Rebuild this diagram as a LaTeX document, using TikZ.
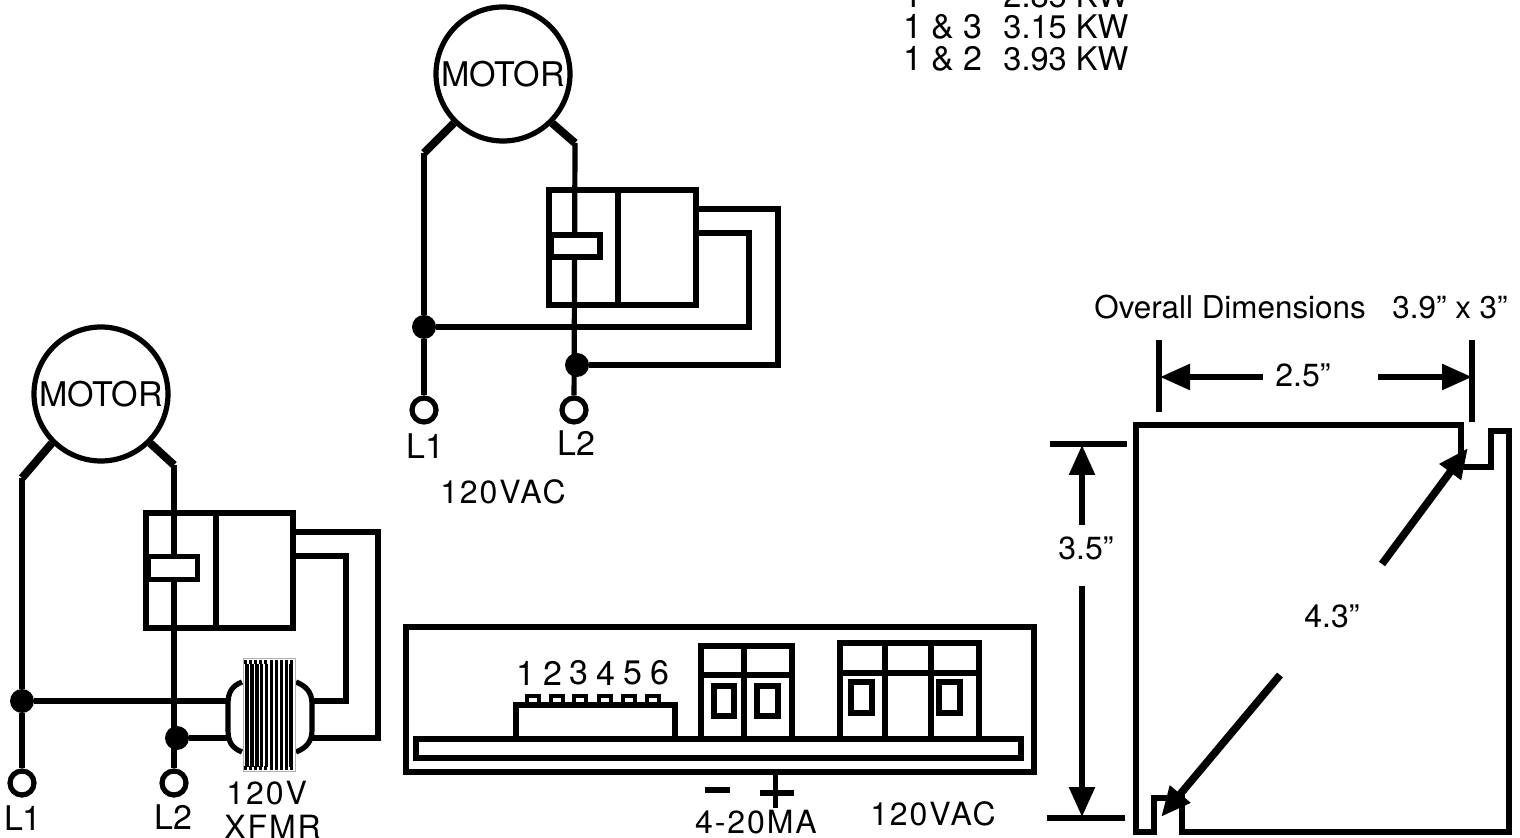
\documentclass[tikz,border=0pt]{standalone}
\usepackage{fontspec}
\setmainfont{TeX Gyre Heros}
\newfontfamily\widefont[LetterSpace=6]{TeX Gyre Heros}
\usetikzlibrary{arrows.meta}

\tikzset{
  wire/.style={line width=2.6pt, line join=miter},
  lead/.style={line width=4pt},
  motor/.style={circle, draw, line width=2.6pt, minimum size=67pt, inner sep=0pt, font=\fontsize{17}{18}\selectfont},
  term/.style={circle, draw, line width=2.6pt, minimum size=12pt, inner sep=0pt},
  dot/.style={circle, fill, minimum size=12pt, inner sep=0pt},
  part/.style={rectangle, draw, line width=2.6pt, inner sep=0pt},
  lbl/.style={font=\fontsize{16}{18}\selectfont, inner sep=0pt},
  blbl/.style={font=\fontsize{17}{18}\selectfont, inner sep=0pt},
  wlbl/.style={font=\widefont\fontsize{16}{18}\selectfont, inner sep=0pt},
  dim/.style={line width=2.8pt, -{Triangle[length=15pt, width=12.5pt]}},
  diag/.style={line width=3.8pt, -{Triangle[length=15pt, width=12.5pt]}},
  tick/.style={line width=2.6pt}
}

\begin{document}
\begin{tikzpicture}[x=0.5pt, y=-0.5pt]
    \useasboundingbox (0,0) rectangle (1520,838);

    % left circuit
    \node[motor] (a) at (101,394) {MOTOR};
    \node[term] (b) at (22,783) {};
    \node[term] (c) at (174,783) {};
    \node[dot] (d) at (22,701) {};
    \node[dot] (e) at (177,738) {};
    \coordinate (f) at (22,478);
    \coordinate (g) at (174,465);
    \coordinate (i) at (293,532);
    \coordinate (j) at (378,532);
    \coordinate (k) at (378,738);
    \coordinate (l) at (311,738);
    \coordinate (m) at (293,556);
    \coordinate (n) at (346,556);
    \coordinate (o) at (346,701);
    \coordinate (p) at (311,701);
    \coordinate (q) at (228,701);
    \coordinate (r) at (228,738);

    \draw[lead] (a.225) -- (f);
    \draw[lead] (a.-45) -- (g);
    \draw[wire] (f) -- (d);
    \draw[wire] (d) -- (b);
    \draw[wire] (g) -- (c);
    \draw[wire] (d) -- (q);
    \draw[wire] (e) -- (r);
    \draw[wire] (i) -- (j) -- (k) -- (l);
    \draw[wire] (m) -- (n) -- (o) -- (p);

    \node[part, minimum width=73.5pt, minimum height=57.5pt] (s) at (219.5,570.5) {};
    \draw[wire] (216,513) -- (216,628);
    \node[part, fill=white, minimum width=24.5pt, minimum height=11.5pt] (t) at (173,568) {};

    % transformer
    \draw[wire] (242,682) .. controls (232,686) and (228,692) .. (228,704) -- (228,730) .. controls (228,742) and (232,748) .. (242,752);
    \draw[wire] (296,682) .. controls (306,686) and (312,692) .. (312,704) -- (312,730) .. controls (312,742) and (306,748) .. (296,752);
    \node[draw=gray!60, line width=.5pt, fill=white, minimum width=26pt, minimum height=56pt, inner sep=0pt] (u) at (269,715) {};
    \foreach \x in {0,...,9}
      \draw[line width=1.7pt] (247+4.9*\x,664) -- (247+4.9*\x,767);
    \foreach \x in {0,...,9} {
      \fill (244+5.1*\x,660) rectangle (247+5.1*\x,664);
      \fill (244+5.1*\x,766) rectangle (247+5.1*\x,770);
    }

    \node[blbl] (v) at (23,818) {L1};
    \node[blbl] (w) at (173,817) {L2};
    \node[wlbl, anchor=base west] (x) at (226,804) {120V};
    \node[wlbl, anchor=base west] (y) at (224,838) {XFMR};

    % top circuit
    \node[motor] (a2) at (503,74) {MOTOR};
    \node[term] (b2) at (424,410) {};
    \node[term] (c2) at (574,410) {};
    \node[dot] (d2) at (424,327) {};
    \node[dot] (e2) at (577,365) {};
    \coordinate (f2) at (424,153);
    \coordinate (g2) at (575,143);
    \coordinate (i2) at (696,209);
    \coordinate (j2) at (778,209);
    \coordinate (k2) at (778,365);
    \coordinate (m2) at (696,233);
    \coordinate (n2) at (749,233);
    \coordinate (o2) at (749,327);

    \draw[lead] (a2.225) -- (f2);
    \draw[lead] (a2.-45) -- (g2);
    \draw[wire] (f2) -- (d2);
    \draw[wire] (d2) -- (b2);
    \draw[wire] (g2) -- (c2);
    \draw[wire] (i2) -- (j2) -- (k2) -- (e2);
    \draw[wire] (m2) -- (n2) -- (o2) -- (d2);

    \node[part, minimum width=73.5pt, minimum height=57.5pt] (s2) at (622.5,247.5) {};
    \draw[wire] (618,190) -- (618,305);
    \node[part, fill=white, minimum width=24.5pt, minimum height=11pt] (t2) at (575.5,246) {};

    \node[blbl] (v2) at (425,446) {L1};
    \node[blbl] (w2) at (576,443) {L2};
    \node[wlbl] (x2) at (503,492) {120VAC};

    % table
    \node[blbl, anchor=base west] (r0) at (903,8) {1};
    \node[blbl, anchor=base west] (r1) at (903,39) {1 \& 3};
    \node[blbl, anchor=base west] (r2) at (903,71) {1 \& 2};
    \node[font=\fontsize{16.3}{18}\selectfont, inner sep=0pt, anchor=base west] (v0) at (1003,8) {2.85 KW};
    \node[font=\fontsize{16.3}{18}\selectfont, inner sep=0pt, anchor=base west] (v1) at (1003,39) {3.15 KW};
    \node[font=\fontsize{16.3}{18}\selectfont, inner sep=0pt, anchor=base west] (v3) at (1003,71) {3.93 KW};

    % panel
    \node[part, minimum width=314pt, minimum height=72.5pt] (pa) at (720,699.5) {};
    \node[part, minimum width=302.5pt, minimum height=9.5pt] (pb) at (718.5,748.5) {};
    \node[part, minimum width=79.5pt, minimum height=17pt] (pc) at (595.5,722) {};
    \foreach \x/\lx/\t [count=\i] in {527/526/1,551/553/2,574/579/3,599/606/4,623/633/5,647/660/6} {
      \node[part, line width=1.7pt, minimum width=6pt, minimum height=4.5pt] (pd\i) at (\x+6,700.5) {};
      \node[blbl] (pe\i) at (\lx,673) {\t};
    }

    \node[part, minimum width=45.5pt, minimum height=46.5pt] (pf) at (746.5,692.5) {};
    \draw[wire] (701,675) -- (792,675);
    \draw[wire] (744,646) -- (744,739);
    \node[part, minimum width=10pt, minimum height=15pt] (pg) at (724,701) {};
    \node[part, minimum width=10.5pt, minimum height=15pt] (ph) at (767.5,701) {};

    \node[part, minimum width=69.5pt, minimum height=48pt] (pi) at (909.5,691) {};
    \draw[wire] (840,673) -- (979,673);
    \draw[wire] (885,643) -- (885,739);
    \draw[wire] (931,643) -- (931,739);
    \node[part, minimum width=10.5pt, minimum height=15.5pt] (pj) at (861.5,697.5) {};
    \node[part, minimum width=10.5pt, minimum height=15.5pt] (pk) at (949.5,697.5) {};

    \draw[line width=3pt] (705,790) -- (730,790);
    \draw[line width=3pt] (760,793) -- (794,793);
    \draw[wire] (775.5,772) -- (775.5,808);
    \node[wlbl] (pl) at (756,822) {4-20MA};
    \node[wlbl] (pm) at (933,814) {120VAC};

    % dimensions
    \node[font=\fontsize{15.7}{18}\selectfont, inner sep=0pt, anchor=base west] (da) at (1094,319) {Overall Dimensions};
    \node[font=\fontsize{15.7}{18}\selectfont, inner sep=0pt, anchor=base west] (db) at (1392,319) {3.9” x 3”};
    \draw[tick] (1159,340) -- (1159,412);
    \draw[tick] (1472,340) -- (1472,422);
    \node[lbl] (dc) at (1303,375) {2.5”};
    \coordinate (dd) at (1263,377);
    \coordinate (de) at (1160,377);
    \coordinate (df) at (1378,377);
    \coordinate (dg) at (1472,377);
    \draw[dim] (dd) -- (de);
    \draw[dim] (df) -- (dg);

    \draw[line width=2.6pt] (1136,425) -- (1461,425) -- (1461,467) -- (1491,467) -- (1491,431) -- (1509,431) -- (1509,832) -- (1182,832) -- (1182,798) -- (1154,798) -- (1154,832) -- (1136,832) -- cycle;

    \draw[tick] (1050,444) -- (1127,444);
    \draw[tick] (1047,818) -- (1125,818);
    \node[lbl] (dh) at (1086,548) {3.5”};
    \coordinate (di) at (1082,525);
    \coordinate (dj) at (1082,445);
    \coordinate (dk) at (1082,586);
    \coordinate (dl) at (1082,817);
    \draw[dim] (di) -- (dj);
    \draw[dim] (dk) -- (dl);

    \node[lbl] (dm) at (1332,616) {4.3”};
    \coordinate (dn) at (1382,564);
    \coordinate (do) at (1468,448);
    \coordinate (dp) at (1280,675);
    \coordinate (dq) at (1161,817);
    \draw[diag] (dn) -- (do);
    \draw[diag] (dp) -- (dq);
  \end{tikzpicture}
\end{document}
